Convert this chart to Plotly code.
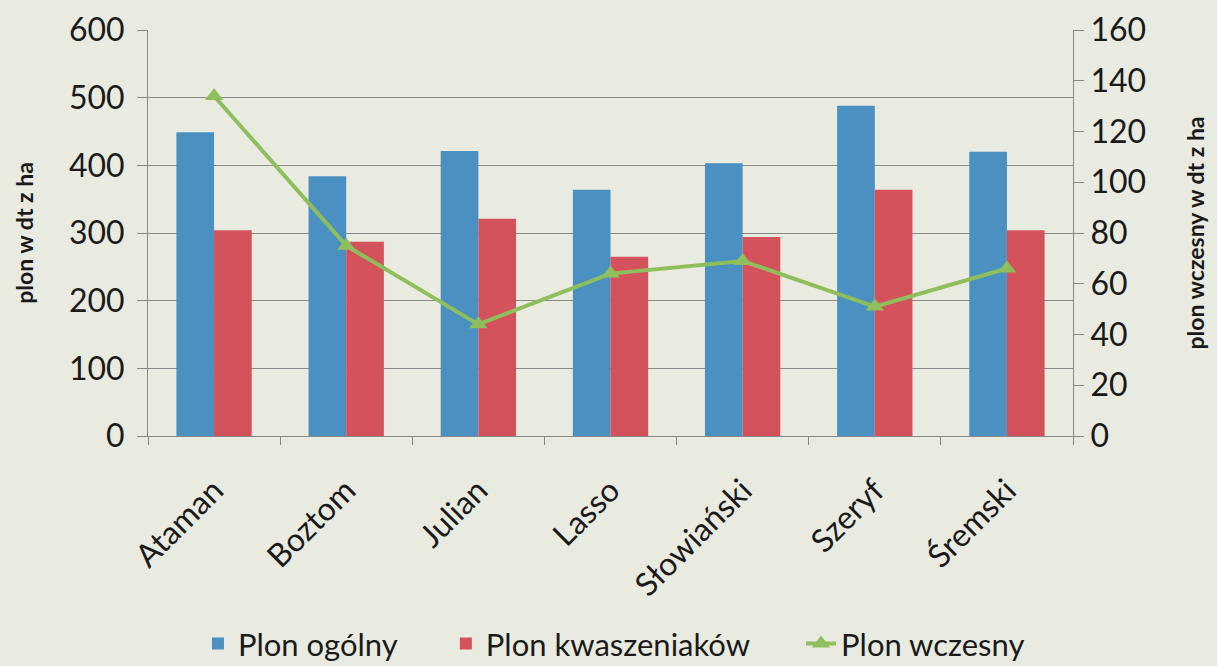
import plotly.graph_objects as go

categories = ["Ataman", "Boztom", "Julian", "Lasso", "Słowiański", "Szeryf", "Śremski"]
plon_ogolny = [449, 384, 421, 364, 403, 488, 420]
plon_kwaszeniakow = [304, 287, 321, 265, 294, 364, 304]
plon_wczesny = [134, 75, 44, 64, 69, 51, 66]

left_ticks = [0, 100, 200, 300, 400, 500, 600]
right_ticks = [0, 20, 40, 60, 80, 100, 120, 140, 160]

BG = "#e9ebe1"
FONT = "Lato"

fig = go.Figure()
fig.add_trace(go.Bar(x=categories, y=plon_ogolny, name="Plon ogólny", legend="legend",
                     marker=dict(color="#4a90c0", line=dict(width=0))))
fig.add_trace(go.Bar(x=categories, y=plon_kwaszeniakow, name="Plon kwaszeniaków", legend="legend2",
                     marker=dict(color="#d3525c", line=dict(width=0))))
fig.add_trace(go.Scatter(x=categories, y=plon_wczesny, name="Plon wczesny", yaxis="y2",
                         legend="legend3", mode="lines+markers",
                         line=dict(color="#8fbf5c", width=4),
                         marker=dict(symbol="triangle-up", size=16, color="#8fbf5c")))

leg_common = dict(orientation="h", xanchor="left", y=-0.512, yanchor="middle",
                  font=dict(size=31), bgcolor="rgba(0,0,0,0)")

fig.update_layout(
    width=1217, height=666,
    paper_bgcolor=BG, plot_bgcolor=BG,
    margin=dict(l=148, r=144, t=30, b=230, autoexpand=False),
    barmode="group", bargap=0.43, bargroupgap=0,
    font=dict(family=FONT, color="#1a1a1a"),
    showlegend=True,
    legend=dict(x=0.054, **leg_common),
    legend2=dict(x=0.322, **leg_common),
    legend3=dict(x=0.706, **leg_common),
    xaxis=dict(tickangle=-45, tickfont=dict(size=32), showline=True, linecolor="#888888",
               linewidth=1, ticks="outside", tickson="boundaries", ticklen=8,
               tickcolor="#888888", showgrid=False, ticklabelstandoff=22, automargin=False),
    yaxis=dict(range=[0, 600], tickvals=left_ticks, tickfont=dict(size=32),
               showline=True, linecolor="#888888", ticks="outside", ticklen=10,
               tickcolor="#888888", gridcolor="#8a8a8a", gridwidth=1, zeroline=False,
               ticklabelstandoff=6, automargin=False,
               title=dict(text="<b>plon w dt z ha</b>", font=dict(size=23), standoff=28)),
    yaxis2=dict(range=[0, 160], tickvals=right_ticks, tickfont=dict(size=32),
                overlaying="y", side="right", showline=True, linecolor="#888888",
                ticks="outside", ticklen=10, tickcolor="#888888", showgrid=False,
                zeroline=False, automargin=False,
                title=dict(text="<b>plon wczesny w dt z ha</b>", font=dict(size=23), standoff=42)),
)

fig.write_html("out.html", config={"displayModeBar": False},
               post_script="document.body.style.margin='0';document.body.style.background='%s';" % BG)
